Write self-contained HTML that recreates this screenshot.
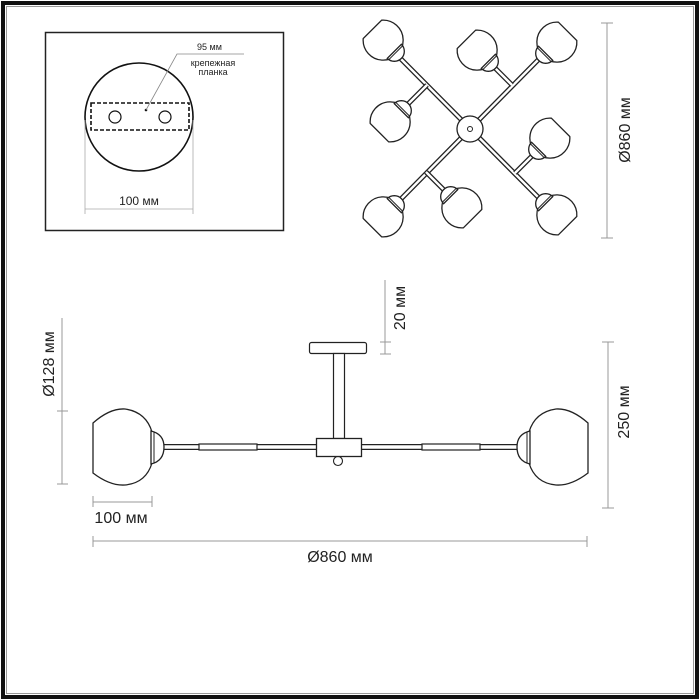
<!DOCTYPE html>
<html><head><meta charset="utf-8"><style>
html,body{margin:0;padding:0;background:#fff;}
svg{display:block;}
text{font-family:"Liberation Sans",sans-serif;fill:#222;}
</style></head><body>
<svg width="700" height="700" viewBox="0 0 700 700" xmlns="http://www.w3.org/2000/svg">
<defs>
<g id="shade">
  <path d="M-13,-15 A20,20 0 1 0 13,-15 Z" fill="#fff" stroke="#222" stroke-width="1.3"/>
  <path d="M-10,16 A10,10 0 0 0 10,16 Z" fill="#fff" stroke="#222" stroke-width="1.3"/>
  <line x1="-10" y1="18" x2="10" y2="18" stroke="#222" stroke-width="1"/>
</g>
</defs>
<!-- frame -->
<rect x="3" y="3" width="694" height="694" fill="none" stroke="#111" stroke-width="4"/>
<rect x="6.5" y="6.5" width="687" height="687" fill="none" stroke="#999" stroke-width="1"/>

<!-- top-left box -->
<rect x="45.5" y="32.5" width="238" height="198" fill="none" stroke="#222" stroke-width="1.5"/>
<circle cx="139" cy="117" r="54" fill="none" stroke="#111" stroke-width="1.6"/>
<rect x="91" y="103" width="98" height="27" fill="none" stroke="#111" stroke-width="1.6" stroke-dasharray="4,2"/>
<circle cx="115" cy="117" r="6" fill="none" stroke="#111" stroke-width="1.2"/>
<circle cx="165" cy="117" r="6" fill="none" stroke="#111" stroke-width="1.2"/>
<circle cx="146" cy="110" r="1.3" fill="#111"/>
<polyline points="146,110 177,54 244,54" fill="none" stroke="#888" stroke-width="0.8"/>
<text x="197" y="50" font-size="9">95 мм</text>
<text x="213" y="66" font-size="9" text-anchor="middle">крепежная</text>
<text x="213" y="75" font-size="9" text-anchor="middle">планка</text>
<line x1="85" y1="120" x2="85" y2="214" stroke="#aaa" stroke-width="0.8"/>
<line x1="193" y1="120" x2="193" y2="214" stroke="#aaa" stroke-width="0.8"/>
<line x1="85" y1="209" x2="193" y2="209" stroke="#aaa" stroke-width="0.8"/>
<text x="139" y="205" font-size="12" text-anchor="middle">100 мм</text>

<!-- top-right plan view -->
<g stroke-linecap="butt">
<line x1="398" y1="56" x2="541" y2="200" stroke="#222" stroke-width="5"/>
<line x1="398" y1="56" x2="541" y2="200" stroke="#fff" stroke-width="2.4"/>
<line x1="541" y1="57" x2="399" y2="201" stroke="#222" stroke-width="5"/>
<line x1="541" y1="57" x2="399" y2="201" stroke="#fff" stroke-width="2.4"/>
<line x1="492" y1="65" x2="512" y2="85" stroke="#222" stroke-width="5"/>
<line x1="492" y1="65" x2="512" y2="85" stroke="#fff" stroke-width="2.4"/>
<line x1="406" y1="106" x2="427" y2="85" stroke="#222" stroke-width="5"/>
<line x1="406" y1="106" x2="427" y2="85" stroke="#fff" stroke-width="2.4"/>
<line x1="534" y1="154" x2="515" y2="173" stroke="#222" stroke-width="5"/>
<line x1="534" y1="154" x2="515" y2="173" stroke="#fff" stroke-width="2.4"/>
<line x1="446" y1="192" x2="426" y2="172" stroke="#222" stroke-width="5"/>
<line x1="446" y1="192" x2="426" y2="172" stroke="#fff" stroke-width="2.4"/>
</g>
<circle cx="470" cy="129" r="13" fill="#fff" stroke="#222" stroke-width="1.3"/>
<circle cx="470" cy="129" r="2.5" fill="#fff" stroke="#222" stroke-width="1"/>
<use href="#shade" transform="translate(383,40) rotate(-45)"/>
<use href="#shade" transform="translate(477,50) rotate(-45)"/>
<use href="#shade" transform="translate(557,42) rotate(45)"/>
<use href="#shade" transform="translate(390,122) rotate(-135)"/>
<use href="#shade" transform="translate(550,138) rotate(45)"/>
<use href="#shade" transform="translate(383,217) rotate(-135)"/>
<use href="#shade" transform="translate(462,208) rotate(135)"/>
<use href="#shade" transform="translate(557,215) rotate(135)"/>
<line x1="607" y1="23" x2="607" y2="238" stroke="#999" stroke-width="1"/>
<line x1="601" y1="23" x2="613" y2="23" stroke="#999" stroke-width="1"/>
<line x1="601" y1="238" x2="613" y2="238" stroke="#999" stroke-width="1"/>
<text transform="translate(630,130) rotate(-90)" font-size="16" text-anchor="middle">Ø860 мм</text>

<!-- side view -->
<rect x="309.5" y="342.5" width="57" height="11" rx="2" fill="#fff" stroke="#222" stroke-width="1.2"/>
<rect x="333.5" y="353.5" width="11" height="85" fill="#fff" stroke="#222" stroke-width="1.2"/>
<line x1="163" y1="447" x2="518" y2="447" stroke="#222" stroke-width="6"/>
<line x1="163" y1="447" x2="518" y2="447" stroke="#fff" stroke-width="3.6"/>
<rect x="199" y="444" width="58" height="6" fill="#fff" stroke="#222" stroke-width="1.2"/>
<rect x="422" y="444" width="58" height="6" fill="#fff" stroke="#222" stroke-width="1.2"/>
<circle cx="338" cy="461" r="4.5" fill="#fff" stroke="#222" stroke-width="1.1"/>
<rect x="316.5" y="438.5" width="45" height="18" fill="#fff" stroke="#222" stroke-width="1.3"/>
<!-- left globe -->
<path d="M93,423 Q110,408 125,409 Q146,412 152,432 L152,463 Q146,483 125,485 Q110,486 93,473 Z" fill="#fff" stroke="#222" stroke-width="1.3"/>
<path d="M151,431 Q164,434 164,447 Q164,461 151,464 Z" fill="#fff" stroke="#222" stroke-width="1.3"/>
<line x1="154" y1="432" x2="154" y2="463" stroke="#222" stroke-width="1"/>
<!-- right globe -->
<path d="M588,423 Q571,408 556,409 Q535,412 529,432 L529,463 Q535,483 556,485 Q571,486 588,473 Z" fill="#fff" stroke="#222" stroke-width="1.3"/>
<path d="M530,431 Q517,434 517,447 Q517,461 530,464 Z" fill="#fff" stroke="#222" stroke-width="1.3"/>
<line x1="527" y1="432" x2="527" y2="463" stroke="#222" stroke-width="1"/>

<!-- dimensions -->
<g stroke="#999" stroke-width="1">
<line x1="385" y1="280" x2="385" y2="354"/>
<line x1="380" y1="342" x2="391" y2="342"/>
<line x1="380" y1="354" x2="391" y2="354"/>
<line x1="62" y1="318" x2="62" y2="484"/>
<line x1="57" y1="411" x2="68" y2="411"/>
<line x1="57" y1="484" x2="68" y2="484"/>
<line x1="608" y1="342" x2="608" y2="508"/>
<line x1="602" y1="342" x2="614" y2="342"/>
<line x1="602" y1="508" x2="614" y2="508"/>
<line x1="93" y1="502" x2="152" y2="502"/>
<line x1="93" y1="496" x2="93" y2="507"/>
<line x1="152" y1="496" x2="152" y2="507"/>
<line x1="93" y1="541" x2="587" y2="541"/>
<line x1="93" y1="536" x2="93" y2="547"/>
<line x1="587" y1="536" x2="587" y2="547"/>
</g>
<text transform="translate(405,308) rotate(-90)" font-size="16" text-anchor="middle">20 мм</text>
<text transform="translate(54,364) rotate(-90)" font-size="16" text-anchor="middle">Ø128 мм</text>
<text transform="translate(629,412) rotate(-90)" font-size="16" text-anchor="middle">250 мм</text>
<text x="121" y="523" font-size="16" text-anchor="middle">100 мм</text>
<text x="340" y="562" font-size="16" text-anchor="middle">Ø860 мм</text>
</svg>
</body></html>
